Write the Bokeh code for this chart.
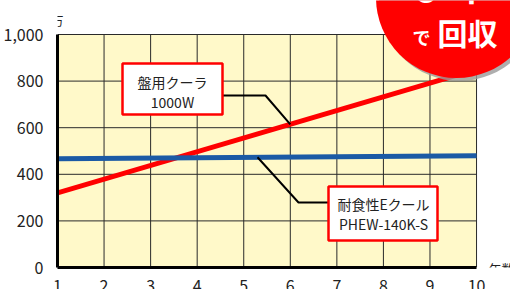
import numpy as np
from bokeh.plotting import figure
from bokeh.models import Range1d, FixedTicker, Label, NumeralTickFormatter
from bokeh.embed import file_html
from bokeh.resources import INLINE
from bokeh.core.properties import value

# ---- data ----
years = [1, 2, 3, 4, 5, 6, 7, 8, 9, 10]
y_ticks = [0, 200, 400, 600, 800, 1000]
red_name = "盤用クーラ"
red_model = "1000W"
red_x = [1, 10]
red_y = [320, 850]
blue_name = "耐食性Eクール"
blue_model = "PHEW-140K-S"
blue_x = [1, 10]
blue_y = [467, 480]
y_unit = "万"
x_unit = "年数"
badge_top = ["約", "3", "年"]
badge_small = "で"
badge_big = "回収"

# ---- geometry helpers (page pixel -> data) ----
X0, XS = 58.0, 46.56   # page x of year 1, px per year
Y0, YS = 267.0, 0.233  # page y of value 0, px per unit
def dx(px): return 1 + (px - X0) / XS
def dy(py): return (Y0 - py) / YS

FONT = "Noto Sans CJK JP"

p = figure(frame_width=453, frame_height=267,
           x_range=Range1d(1, dx(511)), y_range=Range1d(0, dy(0)),
           output_backend="svg", toolbar_location=None,
           min_border_left=50, min_border_right=0, min_border_top=0, min_border_bottom=0)
p.outline_line_color = None
p.background_fill_color = "white"
p.border_fill_color = "white"
p.grid.visible = False

# plot area background
p.quad(left=[years[0]], right=[years[-1]], bottom=[y_ticks[0]], top=[y_ticks[-1]],
       fill_color="#FFF9C9", line_color=None)
# grid lines
vx = years[1:]
p.segment(x0=vx, y0=[y_ticks[0]] * len(vx), x1=vx, y1=[y_ticks[-1]] * len(vx),
          line_color="#2a2a2a", line_width=1)
hy = y_ticks[1:]
p.segment(x0=[years[0]] * len(hy), y0=hy, x1=[years[-1]] * len(hy), y1=hy,
          line_color="#2a2a2a", line_width=1)

# series
p.line(red_x, red_y, line_color="#FF0000", line_width=5)
p.line(blue_x, blue_y, line_color="#1B5AA5", line_width=5)

# axes
for ax in (p.xaxis[0], p.yaxis[0]):
    ax.axis_line_width = 3
    ax.axis_line_color = "black"
    ax.major_tick_line_color = None
    ax.minor_tick_line_color = None
    ax.major_label_text_font = FONT
    ax.major_label_text_font_size = "16px"
    ax.major_label_text_color = "#222222"
p.xaxis.bounds = (years[0], years[-1])
p.yaxis.bounds = (y_ticks[0], y_ticks[-1])
p.xaxis.ticker = FixedTicker(ticks=years)
p.yaxis.ticker = FixedTicker(ticks=y_ticks)
p.yaxis.formatter = NumeralTickFormatter(format="0,0")
p.xaxis.major_label_standoff = 6
p.yaxis.major_label_standoff = 8

# callouts
rx6 = float(np.interp(6, red_x, red_y))
p.line([dx(223), dx(266), 6], [dy(95), dy(95), rx6], line_color="black", line_width=2)
bx = dx(258)
by = float(np.interp(bx, blue_x, blue_y))
p.line([dx(329), dx(299), bx], [dy(202), dy(202), by], line_color="black", line_width=2)

p.quad(left=[dx(123)], right=[dx(223)], top=[dy(63)], bottom=[dy(114)],
       fill_color="white", line_color="#FF0000", line_width=2.5)
p.quad(left=[dx(329)], right=[dx(438)], top=[dy(186)], bottom=[dy(240)],
       fill_color="white", line_color="#FF0000", line_width=2.5)

def lab(text, x, y, size, align="center", color="#222222", bold=False, base="middle"):
    p.add_layout(Label(x=x, y=y, text=text, text_font=FONT, text_font_size=size,
                       text_align=align, text_baseline=base, text_color=color,
                       text_font_style="bold" if bold else "normal"))

lab(red_name, dx(173), dy(81), "14px")
lab(red_model, dx(173), dy(101), "14px")
lab(blue_name, dx(384), dy(203), "14px")
lab(blue_model, dx(384), dy(223), "14px")

lab(y_unit, dx(58), dy(20), "12px")
lab(x_unit, dx(489), dy(268), "13px", align="left")

# badge
p.scatter([dx(460)], [dy(0)], size=161, marker="circle", fill_color="#9a9a9a",
          fill_alpha=0.8, line_color=None)
p.scatter([dx(457)], [dy(-3)], size=161, marker="circle", fill_color="#FF0000",
          line_color=None)
lab(badge_top[0], dx(394), dy(-12), "18px", align="left", color="white", bold=True, base="alphabetic")
lab(badge_top[1], dx(418), dy(-10), "32px", align="left", color="white", bold=True, base="alphabetic")
lab(badge_top[2], dx(452), dy(-16), "36px", align="left", color="white", bold=True, base="alphabetic")
lab(badge_small, dx(413), dy(36), "18px", align="left", color="white", bold=True)
lab(badge_big, dx(438), dy(31), "30px", align="left", color="white", bold=True)

open("out.html", "w").write(file_html(p, INLINE))
